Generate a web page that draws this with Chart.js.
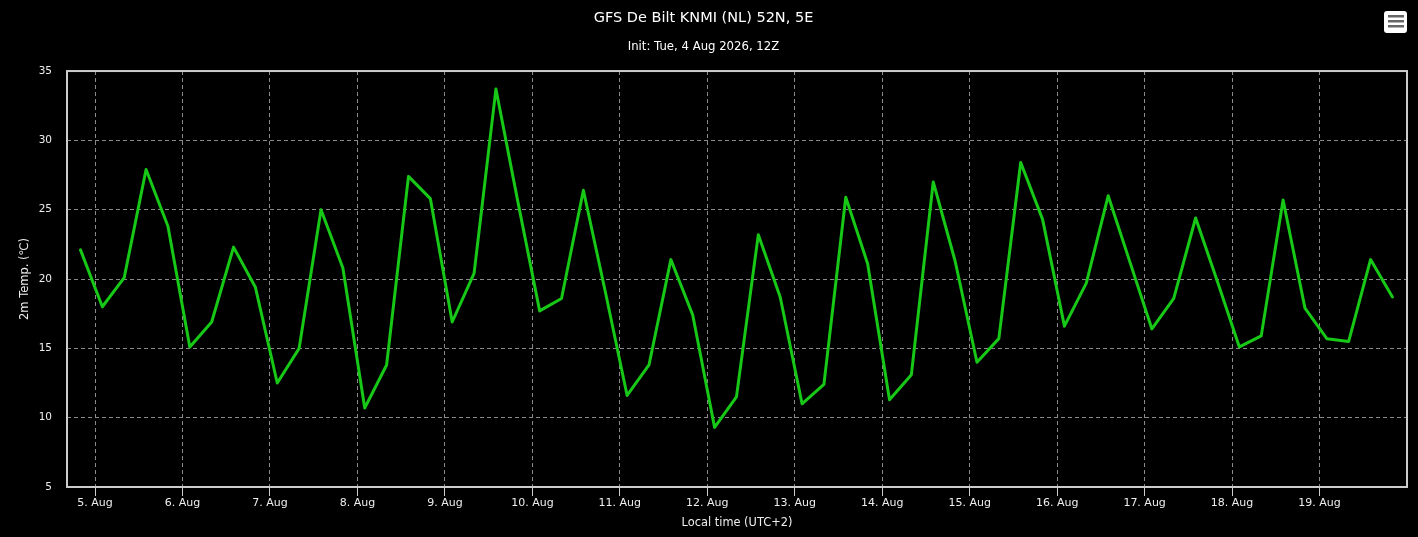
<!DOCTYPE html>
<html>
<head>
<meta charset="utf-8">
<script src="https://cdn.jsdelivr.net/npm/chart.js@4/dist/chart.umd.min.js"></script>
<style>
html, body { margin: 0; padding: 0; background: #000; }
canvas { display: block; }
</style>
</head>
<body>
<canvas id="meteogram" width="1418" height="537" style="width:1418px;height:537px"></canvas>
<script>
// GFS run, 6-hourly 2m temperature, hours counted from 5 Aug 00:00 local
var startHour = -4;
var stepHours = 6;
var temps = [22.1, 18.0, 20.1, 27.9, 23.8, 15.1, 16.9, 22.3, 19.4, 12.5,
             15.0, 25.0, 20.8, 10.7, 13.8, 27.4, 25.8, 16.9, 20.4, 33.7,
             25.6, 17.7, 18.6, 26.4, 19.1, 11.6, 13.8, 21.4, 17.4, 9.3,
             11.5, 23.2, 18.7, 11.0, 12.4, 25.9, 21.1, 11.3, 13.1, 27.0,
             21.3, 14.0, 15.7, 28.4, 24.3, 16.6, 19.7, 26.0, 21.2, 16.4,
             18.6, 24.4, 19.8, 15.1, 15.9, 25.7, 17.9, 15.7, 15.5, 21.4,
             18.7];
var dayTicks = [0, 24, 48, 72, 96, 120, 144, 168, 192, 216, 240, 264, 288, 312, 336];
var dayLabels = ['5. Aug', '6. Aug', '7. Aug', '8. Aug', '9. Aug', '10. Aug', '11. Aug',
                 '12. Aug', '13. Aug', '14. Aug', '15. Aug', '16. Aug', '17. Aug',
                 '18. Aug', '19. Aug'];

var textColor = '#eeeeee';
var gridColor = '#8a8a8a';
var frameColor = '#cccccc';
var lineGreen = '#17c817';
var fontFam = '"DejaVu Sans", Verdana, sans-serif';

var points = [];
for (var i = 0; i < temps.length; i++) {
	points.push({x: startHour + i * stepHours, y: temps[i]});
}

// box round the plot area + the export button top right
var framePlugin = {
	id: 'frame',
	beforeDatasetsDraw: function(chart) {
		var a = chart.chartArea, ctx = chart.ctx;
		ctx.save();
		ctx.strokeStyle = frameColor;
		ctx.lineWidth = 2;
		ctx.strokeRect(a.left, a.top, a.right - a.left, a.bottom - a.top);
		ctx.restore();
	},
	afterDraw: function(chart) {
		var ctx = chart.ctx;
		ctx.save();
		ctx.fillStyle = '#ffffff';
		ctx.beginPath();
		ctx.roundRect(1384, 11, 23, 22, 3);
		ctx.fill();
		ctx.fillStyle = '#666666';
		for (var k = 0; k < 3; k++) {
			ctx.fillRect(1388, 15 + k * 5, 16, 2.5);
		}
		ctx.restore();
	}
};

new Chart(document.getElementById('meteogram'), {
	type: 'line',
	data: {
		datasets: [{
			data: points,
			borderColor: lineGreen,
			borderWidth: 3,
			borderJoinStyle: 'round',
			borderCapStyle: 'round',
			pointRadius: 0,
			tension: 0,
			fill: false
		}]
	},
	options: {
		responsive: false,
		devicePixelRatio: 1,
		animation: false,
		layout: { padding: { left: 0, right: 11, top: 0, bottom: 0 } },
		plugins: {
			legend: { display: false },
			tooltip: { enabled: false },
			title: {
				display: true,
				text: 'GFS De Bilt KNMI (NL) 52N, 5E',
				color: '#ffffff',
				font: { family: fontFam, size: 14.5, weight: 'normal' },
				padding: { top: 10, bottom: 6 }
			},
			subtitle: {
				display: true,
				text: 'Init: Tue, 4 Aug 2026, 12Z',
				color: '#ffffff',
				font: { family: fontFam, size: 11.7, weight: 'normal' },
				padding: { top: 6.3, bottom: 17.3 }
			}
		},
		scales: {
			x: {
				type: 'linear',
				min: -7.7,
				max: 360,
				afterFit: function(scale) { scale.height = 50; },
				afterBuildTicks: function(scale) {
					scale.ticks = dayTicks.map(function(v) { return {value: v}; });
				},
				ticks: {
					autoSkip: false,
					maxRotation: 0,
					color: textColor,
					padding: 1,
					font: { family: fontFam, size: 11 },
					callback: function(v) { return dayLabels[dayTicks.indexOf(v)]; }
				},
				grid: {
					color: gridColor,
					tickLength: 9,
					tickColor: frameColor,
					tickBorderDash: [],
					tickWidth: 1
				},
				border: { display: false, dash: [4, 3] },
				title: {
					display: true,
					text: 'Local time (UTC+2)',
					color: textColor,
					font: { family: fontFam, size: 11.4 },
					padding: { top: 0, bottom: 7.5 }
				}
			},
			y: {
				min: 5,
				max: 35,
				afterFit: function(scale) { scale.width = 67; },
				ticks: {
					stepSize: 5,
					color: textColor,
					padding: 15,
					font: { family: fontFam, size: 10.5 }
				},
				grid: {
					color: gridColor,
					drawTicks: false
				},
				border: { display: false, dash: [4, 3] },
				title: {
					display: true,
					text: '2m Temp. (℃)',
					color: textColor,
					font: { family: fontFam, size: 11.5 },
					padding: { top: 18, bottom: 0 }
				}
			}
		}
	},
	plugins: [framePlugin]
});
</script>
</body>
</html>
